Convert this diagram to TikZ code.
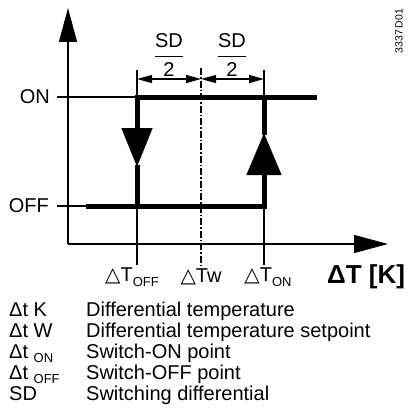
\documentclass[tikz,border=0pt]{standalone}
\usepackage{fontspec}
\setmainfont{Liberation Sans}
\newfontfamily\symfont{DejaVu Sans}
\usepackage{amsmath}
\usetikzlibrary{arrows.meta}

\begin{document}
\begin{tikzpicture}[
  x=1pt, y=-1pt,
  font=\fontsize{20}{22}\selectfont,
  axisline/.style={line width=1.3pt},
  statelin/.style={line width=5pt},
  bigtip/.style={-{Triangle[length=34pt, width=18pt]}},
  dimarr/.style={{Triangle[length=15pt, width=8pt]}-{Triangle[length=15pt, width=8pt]}, line width=1.3pt},
  setline/.style={line width=1.3pt, dash pattern=on 7pt off 2pt on 1.5pt off 2pt},
  lab/.style={inner sep=2pt},
  leg/.style={anchor=base west, inner sep=0pt}
]
\useasboundingbox (0,0) rectangle (412,412);

% axes
\coordinate (org) at (68,244);
\coordinate (ytip) at (68,8);
\coordinate (xtip) at (388,244);
\draw[axisline, bigtip] (org) -- (ytip);
\draw[axisline, bigtip] (org) -- (xtip);

% switch points
\coordinate (offtop) at (137,70);
\coordinate (wtop) at (201,68);
\coordinate (ontop) at (264,70);
\node[lab] (toff) at (132,277) {{\symfont △}T\raisebox{-0.5ex}{\fontsize{13}{14}\selectfont OFF}};
\node[lab] (tw) at (201,277) {{\symfont △}Tw};
\node[lab] (ton) at (268,277) {{\symfont △}T\raisebox{-0.5ex}{\fontsize{13}{14}\selectfont ON}};
\node[lab, font=\fontsize{26}{28}\selectfont\bfseries] (unit) at (366,277) {ΔT [K]};
\draw[axisline] (offtop) -- (offtop |- toff.north);
\draw[axisline] (ontop) -- (ontop |- ton.north);
\draw[setline] (wtop) -- (wtop |- tw.north);

% SD/2
\draw[dimarr] (137,79) -- (201,79);
\draw[dimarr] (201,79) -- (264,79);
\node (sdl) at (169,55) {$\dfrac{\text{SD}}{\text{2}}$};
\node (sdr) at (232,55) {$\dfrac{\text{SD}}{\text{2}}$};

% states
\node[lab, anchor=east] (onlab) at (52,97) {ON};
\node[lab, anchor=east] (offlab) at (51,206) {OFF};
\draw[axisline] ([xshift=5pt]onlab.east) -- (137,97);
\draw[axisline] ([xshift=6pt]offlab.east) -- (86,206);
\draw[statelin, -{Triangle[length=39pt, width=30pt]}] (317,97) -- (137,97) -- (137,167);
\draw[statelin] (137,165) -- (137,206);
\draw[statelin, -{Triangle[length=42pt, width=34pt]}] (86,206) -- (264,206) -- (264,133);
\draw[statelin] (264,135) -- (264,97);

\node[rotate=90, font=\fontsize{10.5}{11}\selectfont] (code) at (399,31) {3337\,D01};

% legend
\foreach \sym/\txt [count=\i] in {
  {Δt K}/{Differential temperature},
  {Δt W}/{Differential temperature setpoint},
  {Δt \raisebox{-0.4ex}{\fontsize{13}{14}\selectfont ON}}/{Switch-ON point},
  {Δt \raisebox{-0.4ex}{\fontsize{13}{14}\selectfont OFF}}/{Switch-OFF point},
  {SD}/{Switching differential}} {
  \node[leg] (sym\i) at (9,{296+20.8*\i}) {\sym};
  \node[leg] (txt\i) at (86,{296+20.8*\i}) {\txt};
}
\end{tikzpicture}
\end{document}
